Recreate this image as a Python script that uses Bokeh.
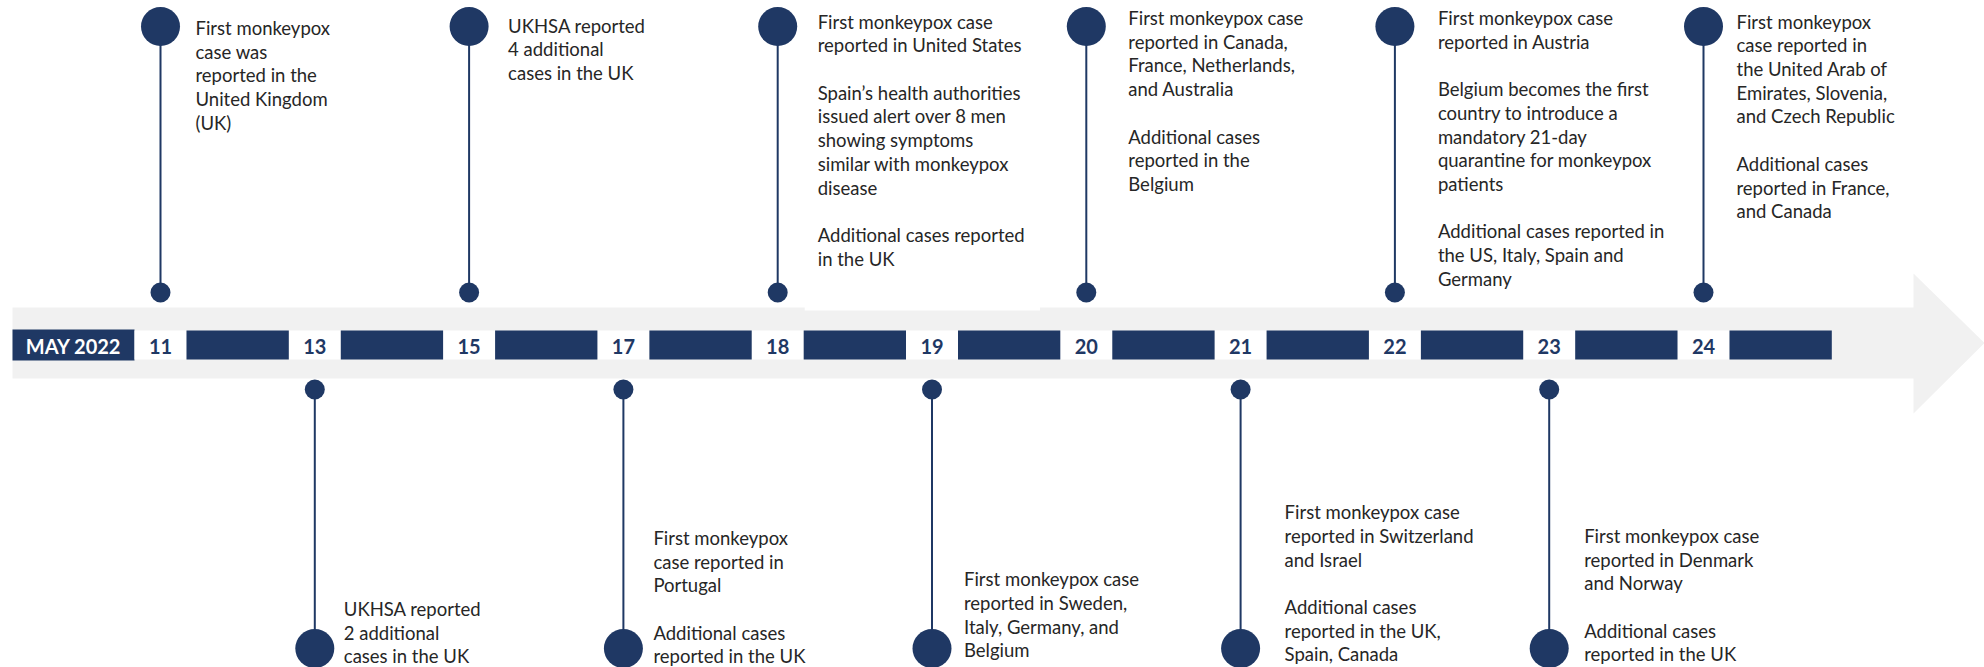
from bokeh.plotting import figure
from bokeh.models import Range1d, ColumnDataSource
from bokeh.core.properties import value
from bokeh.embed import file_html
from bokeh.resources import INLINE

# ---------------- data ----------------
month_label = "MAY 2022"
days = [11, 13, 15, 17, 18, 19, 20, 21, 22, 23, 24]
sides = ["top", "bottom", "top", "bottom", "top", "bottom", "top", "bottom", "top", "bottom", "top"]
events = [
    "First monkeypox\ncase was\nreported in the\nUnited Kingdom\n(UK)",
    "UKHSA reported\n2 additional\ncases in the UK",
    "UKHSA reported\n4 additional\ncases in the UK",
    "First monkeypox\ncase reported in\nPortugal\n\nAdditional cases\nreported in the UK",
    "First monkeypox case\nreported in United States\n\nSpain\u2019s health authorities\nissued alert over 8 men\nshowing symptoms\nsimilar with monkeypox\ndisease\n\nAdditional cases reported\nin the UK",
    "First monkeypox case\nreported in Sweden,\nItaly, Germany, and\nBelgium",
    "First monkeypox case\nreported in Canada,\nFrance, Netherlands,\nand Australia\n\nAdditional cases\nreported in the\nBelgium",
    "First monkeypox case\nreported in Switzerland\nand Israel\n\nAdditional cases\nreported in the UK,\nSpain, Canada",
    "First monkeypox case\nreported in Austria\n\nBelgium becomes the first\ncountry to introduce a\nmandatory 21-day\nquarantine for monkeypox\npatients\n\nAdditional cases reported in\nthe US, Italy, Spain and\nGermany",
    "First monkeypox case\nreported in Denmark\nand Norway\n\nAdditional cases\nreported in the UK",
    "First monkeypox\ncase reported in\nthe United Arab of\nEmirates, Slovenia,\nand Czech Republic\n\nAdditional cases\nreported in France,\nand Canada",
]

# ---------------- layout / style ----------------
DARK = "#1F3864"
GRAY = "#F1F1F1"
TXT = "#262626"
FONT = "Lato"
W, H = 1984, 667
PX0, SLOT = 160.0, 154.3           # pixel of first slot centre, pixels per slot
HALF_BOX = 26.0 / SLOT              # half width of white day boxes
# vertical layout, in page pixels (y axis is flipped)
BAND_TOP, BAND_BOT = 307, 378
BAR_TOP, BAR_BOT = 330, 359
TOP_BIG, TOP_SMALL = 26, 292
BOT_SMALL, BOT_BIG = 389, 648
# per-callout text placement (pixels): horizontal gap from the pin, top / bottom edge
TXT_DX = {11: 35, 13: 29, 15: 39, 17: 30, 18: 40, 19: 32, 20: 42, 21: 44, 22: 43, 23: 35, 24: 33}
TOP_TEXT_Y = {11: 16.5, 15: 14, 18: 10, 20: 6.5, 22: 6.5, 24: 10}
BOT_TEXT_Y = {13: 667, 17: 667, 19: 661, 21: 665, 23: 665}

p = figure(width=W, height=H, output_backend="svg", toolbar_location=None,
           x_range=Range1d((0 - PX0) / SLOT, (W - PX0) / SLOT),
           y_range=Range1d(H, 0), min_border=0)
p.axis.visible = False
p.xgrid.visible = False
p.ygrid.visible = False
p.outline_line_color = None
p.background_fill_color = "white"
p.border_fill_color = "white"

xs = list(range(len(days)))
n = len(days)

def px(v):
    return (v - PX0) / SLOT

# gray arrow
arrow_x = [px(12), px(1913), px(1913), px(1984), px(1913), px(1913), px(12)]
arrow_y = [BAND_TOP, BAND_TOP, 273, 342.5, 413, BAND_BOT, BAND_BOT]
p.patch(arrow_x, arrow_y, fill_color=GRAY, line_color=None)

# white text-box background of 18 that slightly overlaps the band
i18 = days.index(18)
p.quad(left=[i18 + 27.0 / SLOT], right=[i18 + 1.70], top=[300], bottom=[310],
       fill_color="white", line_color=None)

# date strip: month box, white day boxes, dark bars
p.quad(left=[px(12)], right=[xs[0] - HALF_BOX], top=[BAR_TOP - 1], bottom=[BAR_BOT + 1],
       fill_color=DARK, line_color=None)
p.quad(left=[x - HALF_BOX for x in xs], right=[x + HALF_BOX for x in xs],
       top=[BAR_TOP] * n, bottom=[BAR_BOT] * n, fill_color="white", line_color=None)
p.quad(left=[x + HALF_BOX for x in xs], right=[x + 1 - HALF_BOX for x in xs],
       top=[BAR_TOP] * n, bottom=[BAR_BOT] * n, fill_color=DARK, line_color=None)

p.text(x=[(px(12) + xs[0] - HALF_BOX) / 2], y=[(BAR_TOP + BAR_BOT) / 2 + 1], text=[month_label],
       text_font=value(FONT), text_font_style="bold", text_font_size="20px",
       text_color="white", text_align="center", text_baseline="middle")
p.text(x=xs, y=[(BAR_TOP + BAR_BOT) / 2 + 1] * n, text=[str(d) for d in days],
       text_font=value(FONT), text_font_style="bold", text_font_size="20px",
       text_color=DARK, text_align="center", text_baseline="middle")

# stems, pins and texts
top_idx = [i for i in xs if sides[i] == "top"]
bot_idx = [i for i in xs if sides[i] == "bottom"]

p.segment(x0=top_idx, y0=[TOP_BIG] * len(top_idx), x1=top_idx, y1=[TOP_SMALL] * len(top_idx),
          line_color=DARK, line_width=2)
p.segment(x0=bot_idx, y0=[BOT_SMALL] * len(bot_idx), x1=bot_idx, y1=[BOT_BIG] * len(bot_idx),
          line_color=DARK, line_width=2)
p.scatter(x=top_idx, y=[TOP_BIG] * len(top_idx), size=39, fill_color=DARK, line_color=None)
p.scatter(x=top_idx, y=[TOP_SMALL] * len(top_idx), size=20, fill_color=DARK, line_color=None)
p.scatter(x=bot_idx, y=[BOT_SMALL] * len(bot_idx), size=20, fill_color=DARK, line_color=None)
p.scatter(x=bot_idx, y=[BOT_BIG] * len(bot_idx), size=39, fill_color=DARK, line_color=None)

top_src = ColumnDataSource(dict(x=[i + TXT_DX[days[i]] / SLOT for i in top_idx],
                                y=[TOP_TEXT_Y[days[i]] for i in top_idx],
                                t=[events[i] for i in top_idx]))
bot_src = ColumnDataSource(dict(x=[i + TXT_DX[days[i]] / SLOT for i in bot_idx],
                                y=[BOT_TEXT_Y[days[i]] for i in bot_idx],
                                t=[events[i] for i in bot_idx]))
p.text(x="x", y="y", text="t", source=top_src, text_font=value(FONT), text_font_size="18.5px",
       text_color=TXT, text_align="left", text_baseline="top", text_line_height=1.078)
p.text(x="x", y="y", text="t", source=bot_src, text_font=value(FONT), text_font_size="18.5px",
       text_color=TXT, text_align="left", text_baseline="bottom", text_line_height=1.078)

open("out.html", "w").write(file_html(p, INLINE))
